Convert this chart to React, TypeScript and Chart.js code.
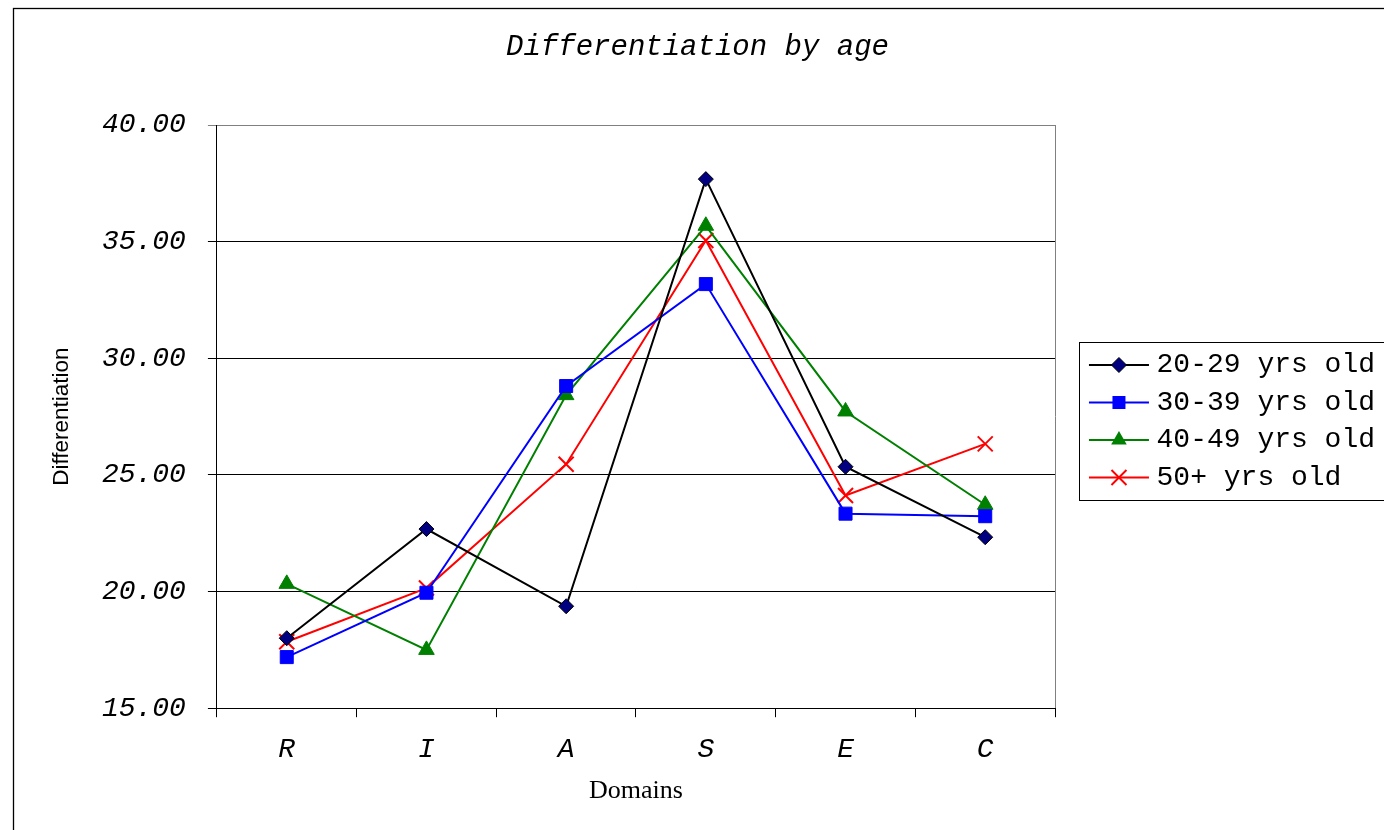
import React, { useEffect, useRef } from 'react';
import { Chart, registerables } from 'chart.js';

Chart.register(...registerables);

// ---- data ----
const categories = ['R', 'I', 'A', 'S', 'E', 'C'];
const seriesNames = ['20-29 yrs old', '30-39 yrs old', '40-49 yrs old', '50+ yrs old'];
const age20to29 = [18.0, 22.68, 19.37, 37.68, 25.35, 22.33];
const age30to39 = [17.19, 19.95, 28.81, 33.18, 23.34, 23.23];
const age40to49 = [20.33, 17.5, 28.42, 35.68, 27.72, 23.72];
const age50plus = [17.85, 20.15, 25.46, 35.05, 24.12, 26.33];
const yTicks = [15, 20, 25, 30, 35, 40];
const chartTitle = 'Differentiation by age';
const xTitle = 'Domains';
const yTitle = 'Differentiation';

const MONO = '"Liberation Mono", "Courier New", monospace';

const seriesStyles = [
  { line: '#000000', fill: '#000080', stroke: '#000000', point: 'rectRot', radius: 7.5, pbw: 1 },
  { line: '#0000FF', fill: '#0000FF', stroke: '#0000FF', point: 'rect', radius: 9.2, pbw: 1 },
  { line: '#008000', fill: '#008000', stroke: '#008000', point: 'triangle', radius: 9, pbw: 1 },
  { line: '#FF0000', fill: '#FF0000', stroke: '#FF0000', point: 'crossRot', radius: 10.6, pbw: 2 },
];

function drawMarker(ctx: CanvasRenderingContext2D, kind: string, x: number, y: number, fill: string, stroke: string) {
  ctx.save();
  ctx.fillStyle = fill;
  ctx.strokeStyle = stroke;
  ctx.lineWidth = 1;
  ctx.beginPath();
  if (kind === 'rectRot') {
    const r = 7.5;
    ctx.moveTo(x, y - r);
    ctx.lineTo(x + r, y);
    ctx.lineTo(x, y + r);
    ctx.lineTo(x - r, y);
    ctx.closePath();
    ctx.fill();
    ctx.stroke();
  } else if (kind === 'rect') {
    const h = 6.5;
    ctx.rect(x - h, y - h, 2 * h, 2 * h);
    ctx.fill();
  } else if (kind === 'triangle') {
    const r = 9;
    ctx.moveTo(x, y - r);
    ctx.lineTo(x + r * 0.866, y + r / 2);
    ctx.lineTo(x - r * 0.866, y + r / 2);
    ctx.closePath();
    ctx.fill();
  } else {
    const h = 7.5;
    ctx.lineWidth = 2;
    ctx.moveTo(x - h, y - h);
    ctx.lineTo(x + h, y + h);
    ctx.moveTo(x + h, y - h);
    ctx.lineTo(x - h, y + h);
    ctx.stroke();
  }
  ctx.restore();
}

const framePlugin = {
  id: 'frame',
  beforeDraw(chart: any) {
    const ctx = chart.ctx;
    ctx.save();
    ctx.fillStyle = '#ffffff';
    ctx.fillRect(0, 0, chart.width, chart.height);
    ctx.strokeStyle = '#000000';
    ctx.lineWidth = 1.3;
    ctx.strokeRect(13.5, 8.5, 1500, 1000);
    ctx.restore();
  },
  afterDraw(chart: any) {
    const ctx = chart.ctx;
    const area = chart.chartArea;
    ctx.save();
    // plot-area right border
    ctx.strokeStyle = '#808080';
    ctx.lineWidth = 1;
    ctx.beginPath();
    const rx = Math.round(area.right) + 0.5;
    ctx.moveTo(rx, Math.round(area.top));
    ctx.lineTo(rx, Math.round(area.bottom));
    ctx.stroke();
    // legend line samples, markers and frame
    const legend = chart.legend;
    const hbs = legend && legend.legendHitBoxes;
    if (hbs && hbs.length) {
      hbs.forEach((hb: any, i: number) => {
        const st = seriesStyles[i];
        const cy = hb.top + hb.height / 2;
        const x0 = hb.left + 24.4;
        ctx.strokeStyle = st.line;
        ctx.lineWidth = 2;
        ctx.beginPath();
        ctx.moveTo(x0, cy);
        ctx.lineTo(x0 + 60, cy);
        ctx.stroke();
        drawMarker(ctx, st.point, x0 + 30, cy, st.fill, st.stroke);
      });
      const first = hbs[0];
      const last = hbs[hbs.length - 1];
      const pad = chart.options.plugins.legend.labels.padding;
      const bx = Math.round(first.left + 14.4) + 0.5;
      const by = Math.round(first.top - pad / 2 - 4) + 0.5;
      const bb = Math.round(last.top + last.height + pad / 2 + 4) + 0.5;
      ctx.strokeStyle = '#000000';
      ctx.lineWidth = 1;
      ctx.strokeRect(bx, by, 600, bb - by);
    }
    ctx.restore();
  },
};

export default function App() {
  const canvasRef = useRef<HTMLCanvasElement | null>(null);

  useEffect(() => {
    const canvas = canvasRef.current;
    if (!canvas) return;
    const seriesValues = [age20to29, age30to39, age40to49, age50plus];
    const datasets = seriesValues.map((vals, i) => {
      const st = seriesStyles[i];
      return {
        label: seriesNames[i],
        data: vals,
        borderColor: st.line,
        backgroundColor: st.fill,
        borderWidth: 2,
        pointStyle: st.point,
        pointRadius: st.radius,
        pointHoverRadius: st.radius,
        pointBackgroundColor: st.fill,
        pointBorderColor: st.stroke,
        pointBorderWidth: st.pbw,
        tension: 0,
        fill: false,
      };
    });

    const chart = new Chart(canvas, {
      type: 'line',
      data: { labels: categories, datasets },
      plugins: [framePlugin],
      options: {
        animation: false,
        responsive: false,
        maintainAspectRatio: false,
        events: [],
        color: '#000000',
        layout: { padding: { left: 10, right: 15, top: 12.5, bottom: 0 } },
        plugins: {
          tooltip: { enabled: false },
          title: {
            display: true,
            text: chartTitle,
            color: '#000000',
            font: { family: MONO, size: 29, style: 'italic', weight: 'normal' },
            padding: { top: 17, bottom: 60.7 },
          },
          legend: {
            display: true,
            position: 'right',
            labels: {
              color: '#000000',
              font: { family: MONO, size: 28, weight: 'normal' },
              padding: 9.5,
              boxWidth: 78,
              boxHeight: 2,
              generateLabels: (ch: any) => {
                const items = Chart.defaults.plugins.legend.labels.generateLabels(ch);
                items.forEach((it: any) => {
                  it.fillStyle = 'rgba(0,0,0,0)';
                  it.strokeStyle = 'rgba(0,0,0,0)';
                  it.lineWidth = 0;
                });
                return items;
              },
            },
          },
        },
        scales: {
          x: {
            type: 'category',
            offset: true,
            grid: {
              display: true,
              drawOnChartArea: false,
              drawTicks: true,
              tickLength: 9,
              offset: true,
              color: '#000000',
              lineWidth: 1,
            },
            border: { display: true, color: '#000000', width: 1 },
            ticks: {
              color: '#000000',
              font: { family: MONO, size: 28, style: 'italic' },
              padding: 16,
              maxRotation: 0,
              autoSkip: false,
            },
            title: {
              display: true,
              text: xTitle,
              color: '#000000',
              font: { family: '"Liberation Serif", "Times New Roman", serif', size: 26 },
              padding: { top: -7, bottom: 23 },
            },
          },
          y: {
            min: yTicks[0],
            max: yTicks[yTicks.length - 1],
            afterBuildTicks: (scale: any) => {
              scale.ticks = yTicks.map((v) => ({ value: v }));
            },
            grid: {
              display: true,
              drawOnChartArea: true,
              drawTicks: true,
              tickLength: 9,
              color: (c: any) => (c.tick && c.tick.value === 40 ? '#808080' : '#000000'),
              lineWidth: 1,
            },
            border: { display: true, color: '#000000', width: 1 },
            ticks: {
              color: '#000000',
              font: { family: MONO, size: 28, style: 'italic' },
              padding: 22,
              callback: (v: any) => Number(v).toFixed(2),
            },
            title: {
              display: true,
              text: yTitle,
              color: '#000000',
              font: { family: '"Liberation Sans", Arial, sans-serif', size: 22.5 },
              padding: { top: 38.5, bottom: 4.4 },
            },
          },
        },
      } as any,
    });
    return () => chart.destroy();
  }, []);

  return (
    <div style={{ position: 'fixed', left: 0, top: 0, width: 1384, height: 830, overflow: 'hidden', background: '#fff' }}>
      <canvas ref={canvasRef} width={1400} height={830} style={{ position: 'absolute', left: 0, top: 0, width: 1400, height: 830 }} />
    </div>
  );
}
